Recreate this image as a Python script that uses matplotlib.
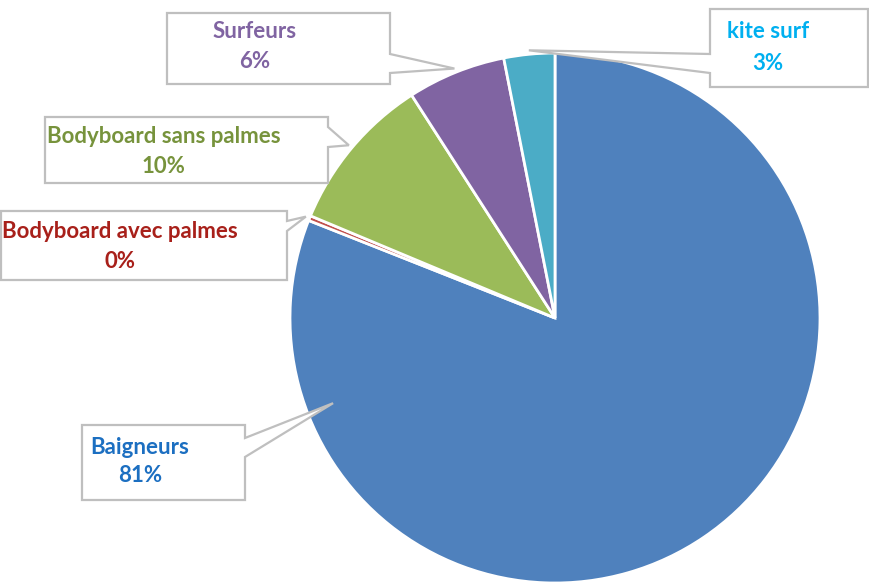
import matplotlib
matplotlib.use("Agg")
import matplotlib.pyplot as plt
from matplotlib.patches import Polygon
import numpy as np

categories = ["Baigneurs", "Bodyboard avec palmes", "Bodyboard sans palmes", "Surfeurs", "kite surf"]
values = [81.0, 0.3, 9.6, 6.0, 3.1]
wedge_colors = ["#4F81BD", "#C0504D", "#9BBB59", "#8064A2", "#4BACC6"]
label_colors = ["#1C6FC1", "#A8201A", "#77933C", "#8064A2", "#00B0F0"]

W, H = 870, 582
fig = plt.figure(figsize=(W / 100, H / 100), dpi=100)
ax = fig.add_axes([0, 0, 1, 1])

cx, cy_img, R = 555, 318, 265
cy = H - cy_img

wedges, _ = ax.pie(values, colors=wedge_colors, startangle=90, counterclock=False,
                   center=(cx, cy), radius=R, frame=True,
                   wedgeprops=dict(edgecolor="white", linewidth=2))
ax.set_xlim(0, W)
ax.set_ylim(0, H)
ax.axis("off")

def img(x, y):
    return (x, H - y)

def tip_for(i, frac=1.015, angle=None):
    w = wedges[i]
    a = angle if angle is not None else 0.5 * (w.theta1 + w.theta2)
    t = np.deg2rad(a)
    return (cx + frac * R * np.cos(t), cy + frac * R * np.sin(t))

def callout(x0, y0, x1, y1, side, ba, bb, tip):
    if side == "right":
        pts = [img(x0, y0), img(x1, y0), img(x1, ba), tip, img(x1, bb), img(x1, y1), img(x0, y1)]
    else:
        pts = [img(x0, y0), img(x1, y0), img(x1, y1), img(x0, y1), img(x0, bb), tip, img(x0, ba)]
    ax.add_patch(Polygon(pts, closed=True, facecolor="white", edgecolor="#BFBFBF",
                         linewidth=1.6, zorder=5))

boxes = {
    0: dict(box=(82, 425, 245, 500), side="right", base=(438, 457), tip=tip_for(0, 0.897, 201.0),
            text=(140, 447), pct=(140, 475)),
    1: dict(box=(1, 211, 287, 280), side="right", base=(221, 231), tip=tip_for(1),
            text=(120, 232), pct=(120, 262)),
    2: dict(box=(45, 117, 328, 183), side="right", base=(127, 147), tip=tip_for(2),
            text=(164, 137), pct=(163, 167)),
    3: dict(box=(167, 13, 390, 84), side="right", base=(54, 73), tip=tip_for(3),
            text=(255, 32), pct=(255, 62)),
    4: dict(box=(710, 9, 868, 87), side="left", base=(54, 73), tip=tip_for(4),
            text=(768, 31), pct=(768, 63)),
}

for i, b in boxes.items():
    x0, y0, x1, y1 = b["box"]
    callout(x0, y0, x1, y1, b["side"], b["base"][0], b["base"][1], b["tip"])
    tx, ty = b["text"]
    px, py = b["pct"]
    ax.text(tx, H - ty, categories[i], color=label_colors[i], ha="center", va="center",
            fontsize=16, fontweight="bold", family="Lato", zorder=6)
    ax.text(px, H - py, f"{round(values[i])}%", color=label_colors[i], ha="center", va="center",
            fontsize=16, fontweight="bold", family="Lato", zorder=6)

fig.savefig("out.png", dpi=100)
